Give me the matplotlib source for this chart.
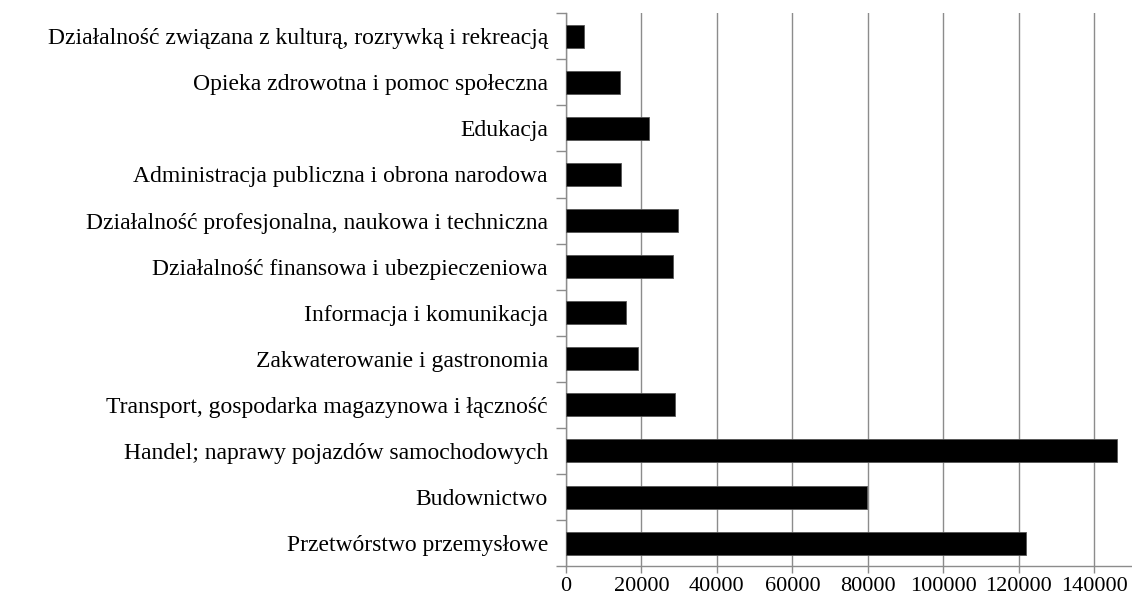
import numpy as np
import matplotlib
matplotlib.use("Agg")
import matplotlib.pyplot as plt

plt.rcParams['font.family'] = ['Liberation Serif', 'DejaVu Serif']

# categories listed bottom to top, as in the chart
categories = [
    "Przetwórstwo przemysłowe",
    "Budownictwo",
    "Handel; naprawy pojazdów samochodowych",
    "Transport, gospodarka magazynowa i łączność",
    "Zakwaterowanie i gastronomia",
    "Informacja i komunikacja",
    "Działalność finansowa i ubezpieczeniowa",
    "Działalność profesjonalna, naukowa i techniczna",
    "Administracja publiczna i obrona narodowa",
    "Edukacja",
    "Opieka zdrowotna i pomoc społeczna",
    "Działalność związana z kulturą, rozrywką i rekreacją",
]
values = [122000, 79700, 145900, 28900, 19200, 16000, 28400, 29600, 14600, 22100, 14200, 4850]
xticks = [0, 20000, 40000, 60000, 80000, 100000, 120000, 140000]

fig = plt.figure(figsize=(11.32, 6.01), dpi=100)
ax = fig.add_axes([0.5, 0.058, 0.5, 0.92])

y = np.arange(len(categories))
ax.barh(y, values, height=0.5, color='black', edgecolor='#555555', linewidth=0.6, zorder=3)

ax.set_xlim(0, 150000)
ax.set_ylim(-0.5, len(categories) - 0.5)
ax.set_xticks(xticks)
ax.set_xticklabels([str(t) for t in xticks], fontsize=16)
ax.xaxis.grid(True, color='#8c8c8c', linewidth=1.0, zorder=0)

# category labels centered on bars, tick marks between categories
ax.set_yticks(y)
ax.set_yticklabels(categories, fontsize=17)
ax.tick_params(axis='y', length=0, pad=13)
ax.set_yticks(np.arange(-0.5, len(categories), 1), minor=True)
ax.tick_params(axis='y', which='minor', length=7, color='#8c8c8c', width=1)
ax.tick_params(axis='x', length=5, color='#8c8c8c', width=1, pad=3)

for s in ['top', 'right']:
    ax.spines[s].set_visible(False)
for s in ['left', 'bottom']:
    ax.spines[s].set_color('#8c8c8c')
    ax.spines[s].set_linewidth(1.0)

fig.savefig('out.png', dpi=100)
